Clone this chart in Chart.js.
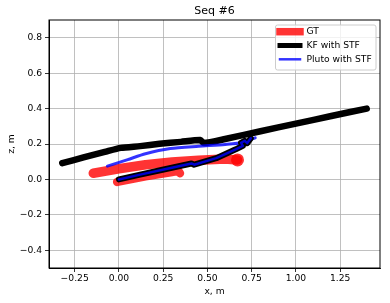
<!DOCTYPE html>
<html>
<head>
<meta charset="utf-8">
<script src="https://cdn.jsdelivr.net/npm/chart.js@4.4.0/dist/chart.umd.min.js"></script>
<style>
  html, body { margin: 0; padding: 0; background: #fff; }
</style>
</head>
<body>
<canvas id="seqChart" width="390" height="303"></canvas>
<script>
// ---- data (x, z in metres) ----
const xTicks = [-0.25, 0, 0.25, 0.5, 0.75, 1, 1.25];
const yTicks = [-0.4, -0.2, 0, 0.2, 0.4, 0.6, 0.8];

const gtX = [-0.145, 0.0, 0.15, 0.3, 0.45, 0.6, 0.67];
const gtY = [0.035, 0.06, 0.083, 0.098, 0.108, 0.115, 0.11];
const gtX2 = [-0.01, 0.15, 0.3, 0.335, 0.345];
const gtY2 = [-0.014, 0.018, 0.042, 0.048, 0.035];

const kfX = [-0.32, -0.2, -0.08, 0.01, 0.12, 0.23, 0.35, 0.46, 0.48, 0.6, 0.8, 1.0, 1.2, 1.4];
const kfY = [0.092, 0.124, 0.155, 0.178, 0.188, 0.201, 0.212, 0.222, 0.205, 0.228, 0.272, 0.315, 0.358, 0.40];

const plutoX = [-0.065, 0.05, 0.15, 0.29, 0.45, 0.6, 0.7, 0.77];
const plutoY = [0.075, 0.112, 0.145, 0.174, 0.187, 0.197, 0.208, 0.235];

const pluto2X = [0.0, 0.12, 0.24, 0.41, 0.425, 0.55, 0.66, 0.70, 0.69, 0.71, 0.725, 0.745];
const pluto2Y = [0.0, 0.027, 0.053, 0.09, 0.083, 0.12, 0.17, 0.19, 0.207, 0.218, 0.205, 0.232];

const legendLabels = ['GT', 'KF with STF', 'Pluto with STF'];
const legendColors = ['rgba(255,0,0,0.8)', '#000000', 'rgba(0,0,255,0.8)'];
const legendWidths = [7.5, 5, 2.5];

const RED = 'rgba(255,0,0,0.8)';
const BLUE = 'rgba(0,0,255,0.8)';
const FONT = "'DejaVu Sans', sans-serif";
const FS = 9.2;

function pts(xs, ys) {
    return xs.map((x, i) => ({ x: x, y: ys[i] }));
}

function line(data, color, width, order, extra) {
    return Object.assign({
        data: data, showLine: true, borderColor: color, backgroundColor: color,
        borderWidth: width, pointRadius: 0, borderCapStyle: 'round', borderJoinStyle: 'round',
        tension: 0, order: order
    }, extra || {});
}

function fmtMinus(v, digits) {
    return v.toFixed(digits).replace('-', '\u2212');
}

// title, outer frame and legend like matplotlib
const framePlugin = {
    id: 'frame',
    afterDraw(chart) {
        const { ctx, chartArea: a } = chart;
        ctx.save();
        ctx.strokeStyle = '#000';
        ctx.lineWidth = 1;
        ctx.strokeRect(a.left, a.top, a.right - a.left, a.bottom - a.top);

        ctx.fillStyle = '#000';
        ctx.font = '11px ' + FONT;
        ctx.textAlign = 'center';
        ctx.textBaseline = 'middle';
        ctx.fillText('Seq #6', (a.left + a.right) / 2, 11.5);

        // legend box
        const bx = 275.5, by = 25, bw = 100.5, bh = 45;
        ctx.fillStyle = 'rgba(255,255,255,0.8)';
        ctx.strokeStyle = '#cccccc';
        ctx.lineWidth = 1;
        ctx.beginPath();
        ctx.roundRect(bx, by, bw, bh, 2);
        ctx.fill();
        ctx.stroke();
        ctx.font = FS + 'px ' + FONT;
        ctx.textAlign = 'left';
        legendLabels.forEach((lab, i) => {
            const y = by + 6.7 + i * 13.8;
            ctx.strokeStyle = legendColors[i];
            ctx.lineWidth = legendWidths[i];
            ctx.lineCap = 'butt';
            ctx.beginPath();
            ctx.moveTo(280 - legendWidths[i] / 2, y);
            ctx.lineTo(300 + legendWidths[i] / 2, y);
            ctx.stroke();
            ctx.fillStyle = '#000';
            ctx.fillText(lab, 306.5, y);
        });
        ctx.restore();
    }
};

new Chart(document.getElementById('seqChart'), {
    type: 'scatter',
    data: {
        datasets: [
            line(pts(pluto2X, pluto2Y), BLUE, 2.5, 1),
            line(pts(pluto2X, pluto2Y), '#000', 6, 2),
            line(pts(plutoX, plutoY), BLUE, 3, 3, { tension: 0.25 }),
            line(pts(kfX, kfY), '#000', 6.5, 4, { tension: 0.2 }),
            line(pts(gtX, gtY), RED, 9.5, 5, {
                pointRadius: c => (c.dataIndex === gtX.length - 1 ? 6.5 : 0),
                pointBorderWidth: 0
            }),
            line(pts(gtX2, gtY2), RED, 8.5, 6)
        ]
    },
    plugins: [framePlugin],
    options: {
        responsive: false, animation: false, devicePixelRatio: 1,
        layout: { padding: { top: 20, right: 10, left: 0, bottom: 0 } },
        plugins: { legend: { display: false }, tooltip: { enabled: false }, title: { display: false } },
        scales: {
            x: {
                type: 'linear', min: -0.395, max: 1.475,
                afterBuildTicks: s => { s.ticks = xTicks.map(v => ({ value: v })); },
                afterFit: s => { s.height = 35; },
                ticks: { color: '#000', font: { family: FONT, size: FS }, padding: 1, maxRotation: 0,
                         callback: v => fmtMinus(v, 2) },
                grid: { color: '#b0b0b0', lineWidth: 0.8, tickColor: '#000', tickLength: 4 },
                border: { color: '#000', width: 1 },
                title: { display: true, text: 'x, m', color: '#000', font: { family: FONT, size: FS },
                         padding: { top: 0, bottom: 6 } }
            },
            y: {
                type: 'linear', min: -0.5, max: 0.9,
                afterBuildTicks: s => { s.ticks = yTicks.map(v => ({ value: v })); },
                afterFit: s => { s.width = 49; },
                ticks: { color: '#000', font: { family: FONT, size: FS }, padding: 3,
                         callback: v => fmtMinus(v, 1) },
                grid: { color: '#b0b0b0', lineWidth: 0.8, tickColor: '#000', tickLength: 4 },
                border: { color: '#000', width: 1 },
                title: { display: true, text: 'z, m', color: '#000', font: { family: FONT, size: FS },
                         padding: { top: 6, bottom: 0 } }
            }
        }
    }
});
</script>
</body>
</html>
